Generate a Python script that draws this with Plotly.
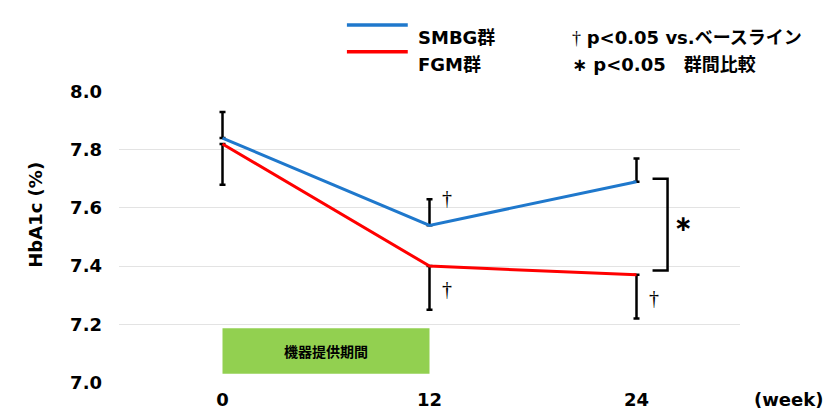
import plotly.graph_objects as go

# ---- data ----
weeks = [0, 12, 24]
week_labels = ["0", "12", "24"]
smbg_mean = [7.84, 7.54, 7.69]
smbg_err_up = [0.09, 0.09, 0.08]
fgm_mean = [7.82, 7.40, 7.37]
fgm_err_down = [0.14, 0.15, 0.15]
y_ticks = [7.0, 7.2, 7.4, 7.6, 7.8, 8.0]
y_tick_labels = ["7.0", "7.2", "7.4", "7.6", "7.8", "8.0"]
period_start, period_end = 0, 12
period_label = "機器提供期間"
smbg_name = "SMBG群"
fgm_name = "FGM群"
dagger_points = [(12, "smbg"), (12, "fgm"), (24, "fgm")]

BLUE = "#1f78cc"
RED = "#ff0000"
GREEN = "#92d050"
FONT = "DejaVu Sans, Noto Sans CJK JP, sans-serif"
JFONT = "Noto Sans CJK JP, DejaVu Sans, sans-serif"

fig = go.Figure()

# error bars (drawn beneath lines)
fig.add_trace(go.Scatter(
    x=weeks, y=smbg_mean, mode="markers", marker=dict(size=1, opacity=0),
    error_y=dict(type="data", symmetric=False, array=smbg_err_up,
                 arrayminus=[0] * len(weeks), color="black", thickness=2.5, width=3),
    showlegend=False, hoverinfo="skip"))
fig.add_trace(go.Scatter(
    x=weeks, y=fgm_mean, mode="markers", marker=dict(size=1, opacity=0),
    error_y=dict(type="data", symmetric=False, array=[0] * len(weeks),
                 arrayminus=fgm_err_down, color="black", thickness=2.5, width=3),
    showlegend=False, hoverinfo="skip"))

# lines
fig.add_trace(go.Scatter(x=weeks, y=smbg_mean, mode="lines", name=smbg_name,
                         line=dict(color=BLUE, width=3), showlegend=False))
fig.add_trace(go.Scatter(x=weeks, y=fgm_mean, mode="lines", name=fgm_name,
                         line=dict(color=RED, width=3), showlegend=False))

# device-provision period box
fig.add_shape(type="rect", xref="x", yref="y", x0=period_start, x1=period_end,
              y0=7.03, y1=7.186, fillcolor=GREEN, line=dict(width=0), layer="below")
fig.add_annotation(x=(period_start + period_end) / 2, y=7.108, xref="x", yref="y",
                   text="<b>" + period_label + "</b>", showarrow=False,
                   font=dict(family=JFONT, size=14, color="black"))

# daggers
for wk, series in dagger_points:
    i = weeks.index(wk)
    if series == "smbg":
        yy = smbg_mean[i] + smbg_err_up[i] + 0.005
    else:
        yy = fgm_mean[i] - fgm_err_down[i] / 2 - 0.005
    fig.add_annotation(x=wk + 1.0, y=yy, xref="x", yref="y", text="†",
                       showarrow=False,
                       font=dict(family="Liberation Serif", size=20, color="black"))

# significance bracket between groups at week 24
i24 = weeks.index(24)
bx0, bx1 = 24.93, 25.8
ytop, ybot = smbg_mean[i24] + 0.01, fgm_mean[i24] + 0.015
fig.add_shape(type="path", xref="x", yref="y",
              path=f"M {bx0},{ytop} L {bx1},{ytop} L {bx1},{ybot} L {bx0},{ybot}",
              line=dict(color="black", width=2.5))
fig.add_annotation(x=26.7, y=(ytop + ybot) / 2 + 0.005, xref="x", yref="y", text="<b>∗</b>",
                   showarrow=False, font=dict(family="DejaVu Sans", size=22, color="black"))

# legend (manual)
fig.add_shape(type="line", xref="paper", yref="paper", x0=0.367, x1=0.465,
              y0=1.226, y1=1.226, line=dict(color=BLUE, width=3.5))
fig.add_shape(type="line", xref="paper", yref="paper", x0=0.367, x1=0.465,
              y0=1.134, y1=1.134, line=dict(color=RED, width=3.5))
fig.add_annotation(x=0.478, y=1.226, xref="paper", yref="paper", xanchor="left",
                   text="<b>" + smbg_name + "</b>", showarrow=False,
                   font=dict(family=FONT, size=18, color="black"))
fig.add_annotation(x=0.478, y=1.134, xref="paper", yref="paper", xanchor="left",
                   text="<b>" + fgm_name + "</b>", showarrow=False,
                   font=dict(family=FONT, size=18, color="black"))
fig.add_annotation(x=0.727, y=1.226, xref="paper", yref="paper", xanchor="left",
                   text="<span style='font-family:Liberation Serif;font-weight:normal'>†</span> <b>p&lt;0.05 vs.ベースライン</b>",
                   showarrow=False, font=dict(family=FONT, size=18, color="black"))
fig.add_annotation(x=0.727, y=1.134, xref="paper", yref="paper", xanchor="left",
                   text="<b>∗ p&lt;0.05　群間比較</b>",
                   showarrow=False, font=dict(family=FONT, size=18, color="black"))

# axis titles
fig.add_annotation(x=-0.156, y=0.575, xref="paper", yref="paper", textangle=-90,
                   text="<b>HbA1c (%)</b>", showarrow=False,
                   font=dict(family=FONT, size=18, color="black"))
fig.add_annotation(x=1.019, y=-0.055, xref="paper", yref="paper", xanchor="left",
                   yanchor="middle", text="<b>(week)</b>", showarrow=False,
                   font=dict(family=FONT, size=18, color="black"))

fig.update_layout(
    width=823, height=412,
    margin=dict(l=119, r=83, t=91, b=29),
    paper_bgcolor="white", plot_bgcolor="white",
    xaxis=dict(range=[-6, 30], tickvals=weeks,
               ticktext=["<b>" + t + "</b>" for t in week_labels],
               showgrid=False, zeroline=False, showline=False, ticks="",
               ticklabelstandoff=4, automargin=False,
               tickfont=dict(family=FONT, size=18, color="black")),
    yaxis=dict(range=[6.998, 8.002], tickvals=y_ticks,
               ticktext=["<b>" + t + "</b>" for t in y_tick_labels],
               showgrid=True, gridcolor="#e3e3e3", gridwidth=1,
               zeroline=False, showline=False, ticks="",
               ticklabelstandoff=16, automargin=False,
               tickfont=dict(family=FONT, size=18, color="black")),
)

fig.write_html("out.html", config={"displayModeBar": False},
               post_script="document.body.style.margin='0';document.body.style.overflow='hidden';")
